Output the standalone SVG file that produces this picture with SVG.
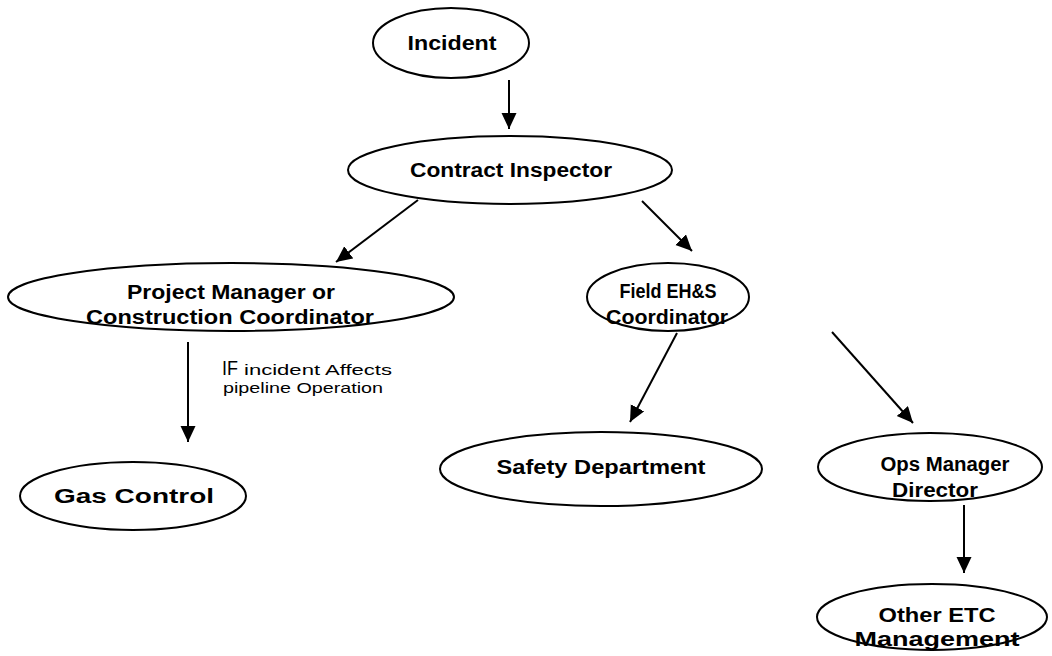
<svg xmlns="http://www.w3.org/2000/svg" width="1052" height="656" viewBox="0 0 1052 656">
<style>
.n{fill:#fff;stroke:#000;stroke-width:2}
.t{font-family:"Liberation Sans",Arial,sans-serif;font-weight:bold;font-size:20px;fill:#000;text-anchor:middle}
.e{stroke:#000;stroke-width:2;fill:none;marker-end:url(#ah)}
.l{font-family:"Liberation Sans",Arial,sans-serif;fill:#000}
</style>
<defs>
<marker id="ah" markerUnits="userSpaceOnUse" markerWidth="18" markerHeight="16" refX="16" refY="7.5" orient="auto">
<path d="M0,0 L16,7.5 L0,15 z" fill="#000"/>
</marker>
</defs>
<rect width="1052" height="656" fill="#fff"/>
<g id="connectors">
<line class="e" x1="509" y1="80" x2="509" y2="129"/>
<line class="e" x1="418" y1="200" x2="336" y2="262"/>
<line class="e" x1="642" y1="201" x2="692" y2="251"/>
<line class="e" x1="188" y1="342" x2="188" y2="442"/>
<line class="e" x1="677" y1="333" x2="630" y2="422"/>
<line class="e" x1="832" y1="332" x2="913" y2="423"/>
<line class="e" x1="964" y1="505" x2="964" y2="573"/>
<text class="l" x="222" y="375" font-size="21" textLength="16" lengthAdjust="spacingAndGlyphs">IF</text>
<text class="l" x="244" y="375" font-size="15" textLength="148" lengthAdjust="spacingAndGlyphs">incident Affects</text>
<text class="l" x="223" y="393" font-size="15" textLength="160" lengthAdjust="spacingAndGlyphs">pipeline Operation</text>
</g>
<g id="incident">
<ellipse class="n" cx="451" cy="43" rx="78" ry="35"/>
<text class="t" x="452" y="50" textLength="89" lengthAdjust="spacingAndGlyphs">Incident</text>
</g>
<g id="contract-inspector">
<ellipse class="n" cx="510" cy="170" rx="162" ry="34"/>
<text class="t" x="511" y="177" textLength="202" lengthAdjust="spacingAndGlyphs">Contract Inspector</text>
</g>
<g id="project-manager">
<ellipse class="n" cx="231" cy="297" rx="223" ry="34"/>
<text class="t" x="231" y="299" textLength="208" lengthAdjust="spacingAndGlyphs">Project Manager or</text>
<text class="t" x="230" y="324" textLength="288" lengthAdjust="spacingAndGlyphs">Construction Coordinator</text>
</g>
<g id="field-ehs">
<ellipse class="n" cx="668" cy="297" rx="81" ry="34"/>
<text class="t" x="668" y="298" textLength="97" lengthAdjust="spacingAndGlyphs">Field EH&amp;S</text>
<text class="t" x="667" y="324" textLength="122" lengthAdjust="spacingAndGlyphs">Coordinator</text>
</g>
<g id="gas-control">
<ellipse class="n" cx="133" cy="496" rx="113" ry="34"/>
<text class="t" x="134" y="503" textLength="160" lengthAdjust="spacingAndGlyphs">Gas Control</text>
</g>
<g id="safety-department">
<ellipse class="n" cx="601" cy="469" rx="161" ry="37"/>
<text class="t" x="601" y="474" textLength="209" lengthAdjust="spacingAndGlyphs">Safety Department</text>
</g>
<g id="ops-manager">
<ellipse class="n" cx="930" cy="467" rx="112" ry="34"/>
<text class="t" x="945" y="471" textLength="129" lengthAdjust="spacingAndGlyphs">Ops Manager</text>
<text class="t" x="935" y="497" textLength="86" lengthAdjust="spacingAndGlyphs">Director</text>
</g>
<g id="other-etc">
<ellipse class="n" cx="932" cy="617" rx="115" ry="33"/>
<text class="t" x="937" y="622" textLength="117" lengthAdjust="spacingAndGlyphs">Other ETC</text>
<text class="t" x="937" y="646" textLength="165" lengthAdjust="spacingAndGlyphs">Management</text>
</g>
</svg>
